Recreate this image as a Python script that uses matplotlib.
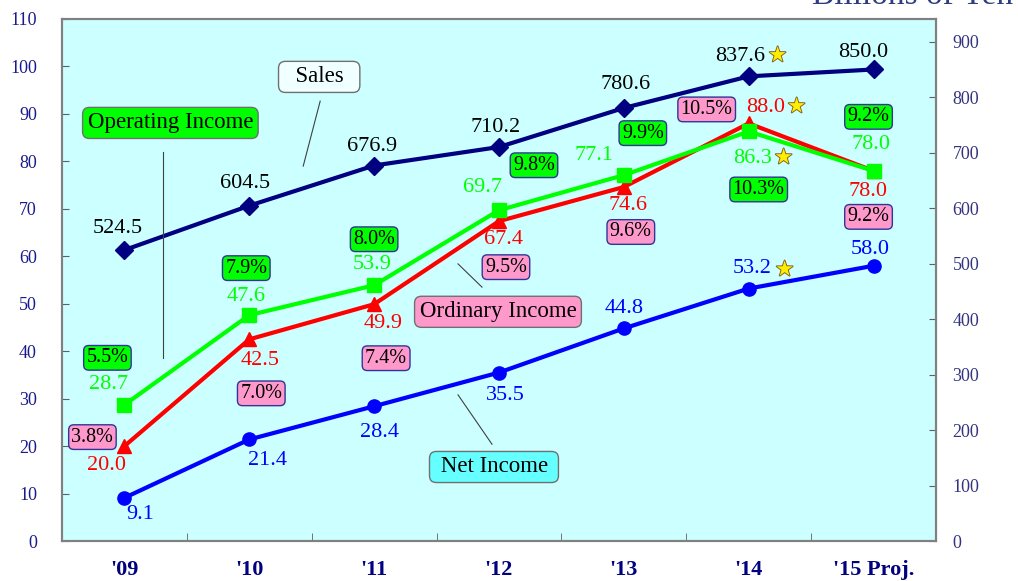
import matplotlib.pyplot as plt
import matplotlib.patheffects as pe
import numpy as np

plt.rc('font', family=['Liberation Serif', 'DejaVu Serif'])

# fiscal years
years = ["'09", "'10", "'11", "'12", "'13", "'14", "'15 Proj."]
sales = [524.5, 604.5, 676.9, 710.2, 780.6, 837.6, 850.0]
op_income = [28.7, 47.6, 53.9, 69.7, 77.1, 86.3, 78.0]
ord_income = [20.0, 42.5, 49.9, 67.4, 74.6, 88.0, 78.0]
net_income = [9.1, 21.4, 28.4, 35.5, 44.8, 53.2, 58.0]
op_margin = [5.5, 7.9, 8.0, 9.8, 9.9, 10.3, 9.2]
ord_margin = [3.8, 7.0, 7.4, 9.5, 9.6, 10.5, 9.2]
starred = [5]  # record highs

NAVY = '#000080'
GREEN = '#00ff00'
RED = '#ff0000'
BLUE = '#0000ff'
PINK = '#ff99cc'
BG = '#ccffff'

fig = plt.figure(figsize=(10.18, 5.81), dpi=100)
ax2 = fig.add_axes([0.0609, 0.0688, 0.8585, 0.8985])
ax2.yaxis.tick_right()
ax = fig.add_axes(ax2.get_position(), sharex=ax2)
ax2.set_facecolor(BG)
ax.patch.set_visible(False)

x = np.arange(len(years))

ax2.plot(x, sales, color=NAVY, lw=3, marker='D', ms=9, zorder=3)
ax.plot(x, ord_income, color=RED, lw=3, marker='^', ms=10, zorder=3)
ax.plot(x, op_income, color=GREEN, lw=3, marker='s', ms=9.5, zorder=4)
ax.plot(x, net_income, color=BLUE, lw=3, marker='o', ms=9.5, zorder=3)

ax.set_xlim(-0.5, 6.5)
ax.set_ylim(0, 110)
ax2.set_ylim(0, 941)
ax.set_yticks(range(0, 111, 10))
ax2.set_yticks(range(0, 901, 100))
ax.set_xticks(x)
ax.set_xticklabels(years, fontsize=16, fontweight='bold', color=NAVY)
ax.set_xticks(x[:-1] + 0.5, minor=True)
ax.tick_params(axis='x', which='major', length=0, pad=14)
ax.tick_params(axis='x', which='minor', direction='in', length=6, color='#606060')
ax2.tick_params(axis='x', which='both', length=0, labelbottom=False)
ax.tick_params(axis='y', direction='in', length=5, color='#606060', labelsize=13,
               labelcolor='#1a1a8c', pad=18)
ax2.tick_params(axis='y', direction='in', length=5, color='#606060', labelsize=13,
                labelcolor='#333380', pad=12)
for a in (ax, ax2):
    for s in a.spines.values():
        s.set_color('#808080')
        s.set_linewidth(1.5)

def star(axis, xv, yv, dx, dy):
    axis.annotate('★', (xv, yv), xytext=(dx, dy), textcoords='offset pixels',
                  ha='center', va='center', fontsize=15, color='#ffee00',
                  family='DejaVu Sans', zorder=6,
                  path_effects=[pe.withStroke(linewidth=1.3, foreground='#806020')])

def value_labels(axis, vals, offs, color, star_offs):
    for i, (v, (dx, dy)) in enumerate(zip(vals, offs)):
        axis.annotate(f'{v:.1f}', (x[i], v), xytext=(dx, dy), textcoords='offset pixels',
                      ha='center', va='center', fontsize=16, color=color, zorder=6)
        if i in starred:
            star(axis, x[i], v, star_offs[0], star_offs[1])

value_labels(ax2, sales, [(-7, 22), (-4, 22), (-2, 19), (-3, 20), (2, 23), (-9, 20), (-10, 17)],
             'black', (29, 21))
value_labels(ax, op_income, [(-16, 20), (-3, 19), (-2, 21), (-16, 23), (-30, 20), (4, -27), (-3, 26)],
             GREEN, (35, -26))
value_labels(ax, ord_income, [(-18, -19), (11, -21), (9, -19), (5, -18), (4, -19), (17, 16), (-6, -21)],
             RED, (48, 17))
value_labels(ax, net_income, [(16, -17), (18, -21), (5, -26), (6, -23), (0, 20), (3, 20), (-3, 16)],
             BLUE, (36, 19))

def margin_boxes(vals, anchors, offs, face):
    for i, (m, (dx, dy)) in enumerate(zip(vals, offs)):
        ax.annotate(f'{m:.1f}%', (x[i], anchors[i]), xytext=(dx, dy), textcoords='offset pixels',
                    ha='center', va='center', fontsize=14.5, color='black', zorder=7,
                    bbox=dict(boxstyle='round,pad=0.14,rounding_size=0.25', fc=face,
                              ec='#333399', lw=1))

margin_boxes(op_margin, op_income,
             [(-17, 47), (-3, 47), (0, 46), (35, 45), (19, 42), (10, -58), (-5, 54)], GREEN)
margin_boxes(ord_margin, ord_income,
             [(-32, 9), (12, -54), (12, -54), (7, -46), (7, -45), (-42, 14), (-5, -46)], PINK)

# series name callouts with leader lines
callouts = [
    ('  Sales  ', (1.56, 97.8), ((1.568, 92.7), (1.432, 79.0)), '#f0ffff'),
    ('Operating Income', (0.368, 88.1), ((0.312, 82.0), (0.312, 38.6)), GREEN),
    ('Ordinary Income', (2.992, 48.3), ((2.864, 53.5), (2.672, 58.4)), PINK),
    (' Net Income ', (2.96, 15.6), ((2.944, 20.4), (2.672, 30.8)), '#66ffff'),
]
for name, (tx, ty), (p0, p1), face in callouts:
    ax.plot([p0[0], p1[0]], [p0[1], p1[1]], color='#404040', lw=0.8, zorder=5)
    ax.text(tx, ty, name, ha='center', va='center', fontsize=16.5, zorder=7,
            bbox=dict(boxstyle='round,pad=0.22,rounding_size=0.3', fc=face,
                      ec='#707070', lw=1))

fig.text(812 / 1018, 1 - 4 / 581, 'Billions of Yen', fontsize=24, color='#2e3d80',
         va='baseline', ha='left')

fig.savefig('out.png', dpi=100)
